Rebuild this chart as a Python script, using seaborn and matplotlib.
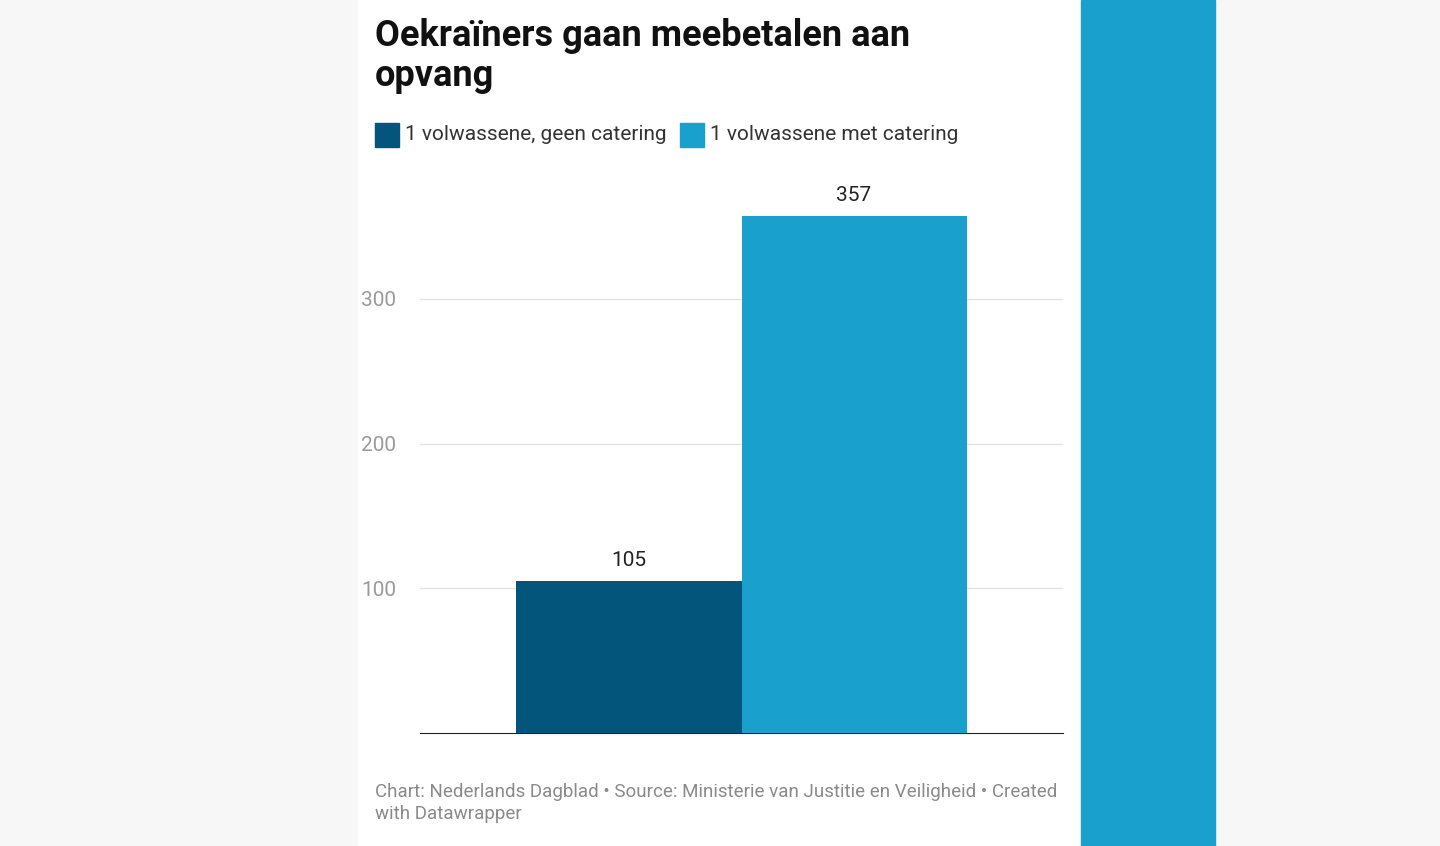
import matplotlib.pyplot as plt
import matplotlib.patches as mpatches
import seaborn as sns
import pandas as pd

categories = ["Opvang"]
series = ["1 volwassene, geen catering", "1 volwassene met catering"]
values = [105, 357]
yticks = [100, 200, 300]
colors = ["#03557b", "#1aa0cd"]

df = pd.DataFrame({"cat": categories * 2, "serie": series, "val": values})

plt.rcParams["font.family"] = "Roboto"
fig = plt.figure(figsize=(14.4, 8.46), dpi=100)
fig.patch.set_facecolor("#f7f7f7")

# achtergrond: witte kaart en blauwe rand rechts
bg = fig.add_axes([0, 0, 1, 1], zorder=-1)
bg.set_xlim(0, 1440)
bg.set_ylim(846, 0)
bg.axis("off")
bg.add_patch(mpatches.Rectangle((358, 0), 1081 - 358, 846, color="white"))
bg.add_patch(mpatches.Rectangle((1081, 0), 1215 - 1081, 846, color="#1aa0cd"))
# legenda-vlakjes
for x, col in zip([375, 680], colors):
    bg.add_patch(mpatches.Rectangle((x, 123), 24, 24, color=col))

ax = fig.add_axes([420 / 1440, 1 - 733 / 846, 643 / 1440, 380 * 1.447 / 846], zorder=2)
sns.barplot(data=df, x="cat", y="val", hue="serie", palette=colors, width=0.7,
            saturation=1, ax=ax, legend=False, zorder=3)
ax.set_xlim(-0.5, 0.5)
ax.set_ylim(0, 380)
ax.set_facecolor("none")
ax.set_yticks(yticks)
ax.set_yticklabels([str(t) for t in yticks], color="#9a9a9a", fontsize=15)
ax.tick_params(axis="y", length=0, pad=10)
ax.set_xticks([])
ax.grid(axis="y", color="#e2e2e2", lw=1, zorder=0)
ax.set_axisbelow(True)
for s in ["top", "right", "left"]:
    ax.spines[s].set_visible(False)
ax.spines["bottom"].set_color("#222222")
ax.set_xlabel("")
ax.set_ylabel("")
for t in ax.get_yticklabels():
    t.set_horizontalalignment("left")
    t.set_x(-0.07)
for c in ax.containers:
    ax.bar_label(c, padding=8, fontsize=15, color="#222222")

fig.text(375 / 1440, 1 - 18 / 846, "Oekraïners gaan meebetalen aan\nopvang", fontsize=26,
         fontweight="bold", va="top", ha="left", linespacing=1.15, color="#111111")
for x, lab in zip([375, 680], series):
    fig.text((x + 30) / 1440, 1 - 135 / 846, lab, fontsize=15, va="center", color="#333333")

fig.text(375 / 1440, 1 - 803 / 846,
         "Chart: Nederlands Dagblad • Source: Ministerie van Justitie en Veiligheid • Created\nwith Datawrapper",
         fontsize=13.5, color="#8a8a8a", va="center", linespacing=1.3)

fig.savefig("out.png", dpi=100)
